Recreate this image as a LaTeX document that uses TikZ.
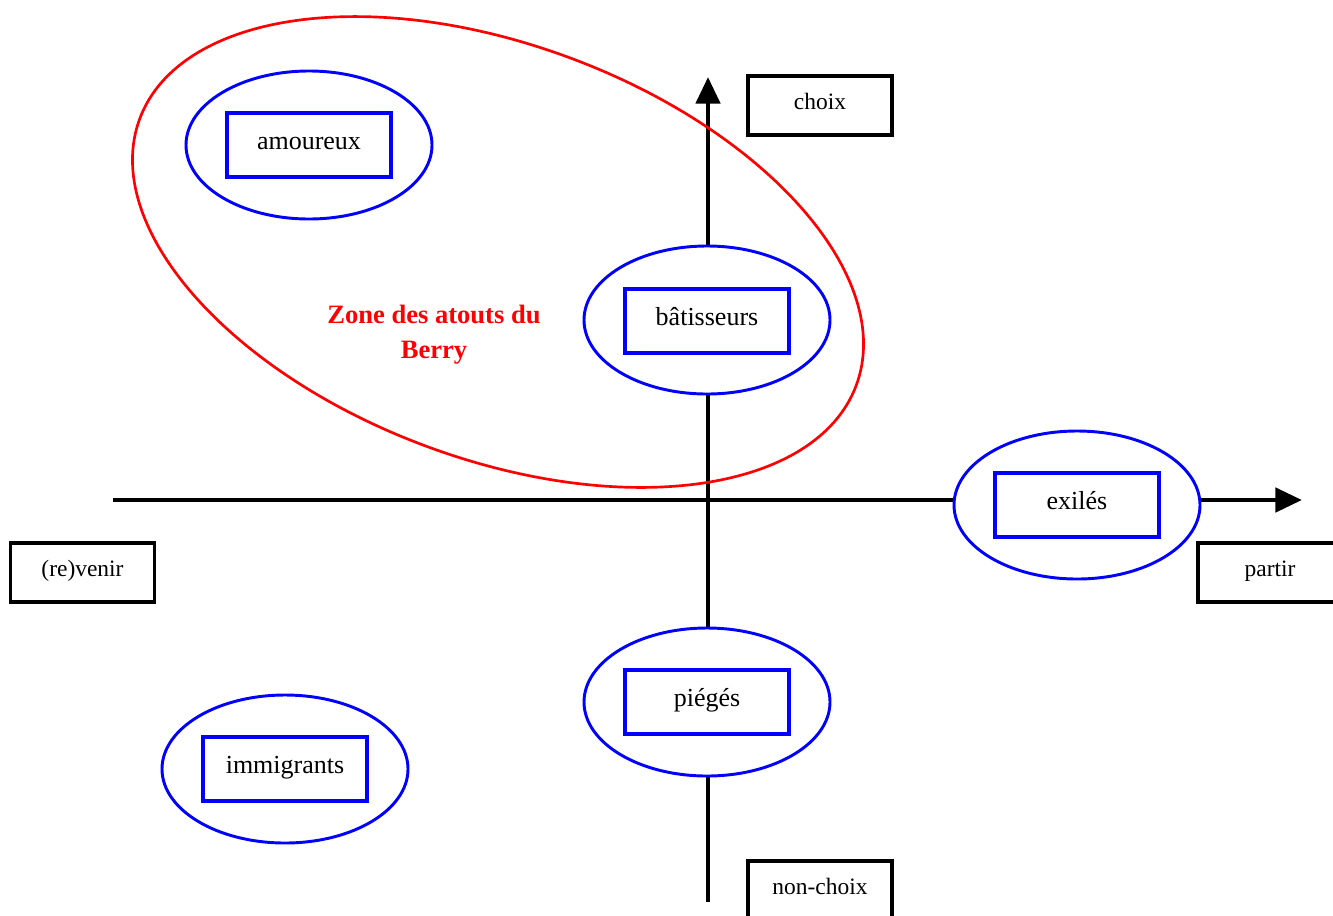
\documentclass[tikz,border=0pt]{standalone}
\usepackage{fontspec}
\setmainfont{Liberation Serif}
\usetikzlibrary{shapes.geometric,arrows.meta}
\begin{document}
\begin{tikzpicture}[x={(0.75pt,0)},y={(0,-0.75pt)},
  axis/.style={line width=3.6pt,-{Triangle[length=20pt,width=18pt]}},
  zone/.style={ellipse,draw=blue,line width=2.2pt,fill=white,minimum width=184.5pt,minimum height=111pt,inner sep=0pt},
  lbl/.style={draw=blue,line width=2.4pt,minimum width=123pt,minimum height=48pt,inner sep=0pt,text height=12pt,text depth=5.6pt,font=\fontsize{19.5}{23}\selectfont},
  axlbl/.style={draw=black,line width=2.4pt,fill=white,minimum width=108pt,minimum height=44.25pt,inner sep=0pt,text height=11pt,text depth=4.6pt,font=\fontsize{17.6}{21}\selectfont},
  redzone/.style={draw=red,line width=2pt},
  redtext/.style={text=red,font=\fontsize{19.9}{26.25}\selectfont\bfseries,align=center}]
\useasboundingbox (0,0) rectangle (1333,915);
% axes
\coordinate (xs) at (113,500);
\coordinate (xe) at (1302,500);
\coordinate (ys) at (708,902);
\coordinate (ye) at (708,77);
\draw[axis] (xs) -- (xe);
\draw[axis] (ys) -- (ye);
% red zone
\draw[redzone,rotate around={-20.4:(498,252)}] (498,252) ellipse [x radius=286.7pt,y radius=155.3pt];
\node[redtext] (zonetxt) at (434,335) {Zone des atouts du\\Berry};
% ellipses
\node[zone] (eamour) at (309,145) {};
\node[lbl] (amour) at (309,145) {amoureux};
\node[zone] (ebatis) at (707,320) {};
\node[lbl] (batis) at (707,321) {bâtisseurs};
\node[zone] (eexil) at (1077,505) {};
\node[lbl] (exil) at (1077,505) {exilés};
\node[zone] (epieg) at (707,702) {};
\node[lbl] (pieg) at (707,702) {piégés};
\node[zone] (eimmi) at (285,769) {};
\node[lbl] (immi) at (285,769) {immigrants};
% axis labels
\node[axlbl] (choix) at (820,105.5) {choix};
\node[axlbl] (revenir) at (82.5,572.5) {(re)venir};
\node[axlbl] (partir) at (1270,572.5) {partir};
\node[axlbl] (nonchoix) at (820,890.5) {non-choix};
\end{tikzpicture}
\end{document}
